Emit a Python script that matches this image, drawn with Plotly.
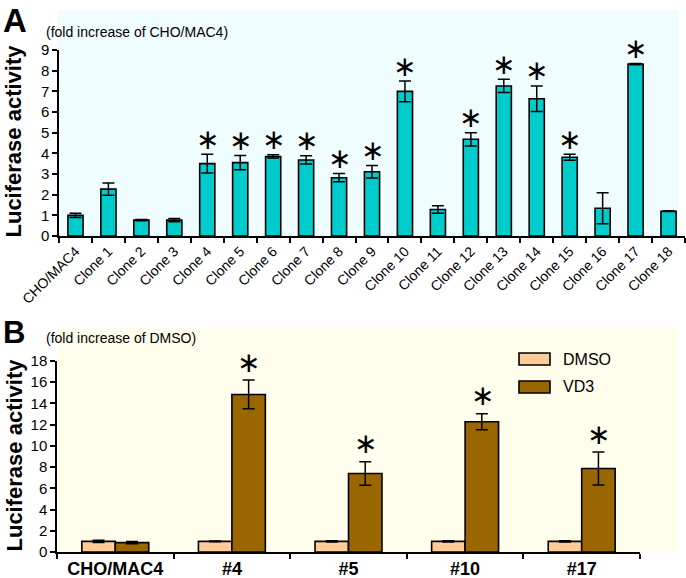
import plotly.graph_objects as go

# ---------------- data ----------------
categories_a = ["CHO/MAC4", "Clone 1", "Clone 2", "Clone 3", "Clone 4", "Clone 5",
                "Clone 6", "Clone 7", "Clone 8", "Clone 9", "Clone 10", "Clone 11",
                "Clone 12", "Clone 13", "Clone 14", "Clone 15", "Clone 16",
                "Clone 17", "Clone 18"]
values_a = [1.0, 2.27, 0.77, 0.77, 3.5, 3.55, 3.85, 3.68, 2.82, 3.11, 7.0, 1.28,
            4.68, 7.26, 6.64, 3.81, 1.34, 8.32, 1.2]
errors_a = [0.1, 0.3, 0.03, 0.08, 0.45, 0.35, 0.08, 0.2, 0.2, 0.3, 0.5, 0.18,
            0.32, 0.32, 0.62, 0.15, 0.75, 0.03, 0.02]
signif_a = [False, False, False, False, True, True, True, True, True, True, True,
            False, True, True, True, True, False, True, False]
yticks_a = [0, 1, 2, 3, 4, 5, 6, 7, 8, 9]

categories_b = ["CHO/MAC4", "#4", "#5", "#10", "#17"]
dmso_values = [1.0, 1.0, 1.0, 1.0, 1.0]
dmso_errors = [0.1, 0.04, 0.05, 0.05, 0.05]
vd3_values = [0.88, 14.85, 7.4, 12.28, 7.87]
vd3_errors = [0.1, 1.35, 1.1, 0.75, 1.55]
signif_b = [False, True, True, True, True]
yticks_b = [0, 2, 4, 6, 8, 10, 12, 14, 16, 18]
series_names = ["DMSO", "VD3"]

# ---------------- style ----------------
W, H = 686, 578
FONT = "Liberation Sans, Arial, Helvetica, sans-serif"
STAR_FONT = "DejaVu Sans, sans-serif"
STAR = "\u2217"
CYAN = "#00CCCC"
PEACH = "#FFCC99"
BROWN = "#996600"
BG_A = "#F0FDFF"
BG_B = "#FFFEEC"


def px(x):
    return x / W


def py(y):
    return (H - y) / H


fig = go.Figure()

fig.add_trace(go.Bar(
    x=categories_a, y=values_a, width=0.46,
    marker=dict(color=CYAN, line=dict(color="black", width=1.6)),
    error_y=dict(type="data", array=errors_a, color="black", thickness=1.5, width=6),
    xaxis="x", yaxis="y", showlegend=False))

fig.add_trace(go.Bar(
    x=categories_b, y=dmso_values, name=series_names[0],
    marker=dict(color=PEACH, line=dict(color="black", width=1.6)),
    error_y=dict(type="data", array=dmso_errors, color="black", thickness=1.5, width=6),
    xaxis="x2", yaxis="y2", showlegend=False))
fig.add_trace(go.Bar(
    x=categories_b, y=vd3_values, name=series_names[1],
    marker=dict(color=BROWN, line=dict(color="black", width=1.6)),
    error_y=dict(type="data", array=vd3_errors, color="black", thickness=1.5, width=6),
    xaxis="x2", yaxis="y2", showlegend=False))

annotations = []
# significance asterisks
for c, v, e, s in zip(categories_a, values_a, errors_a, signif_a):
    if s:
        annotations.append(dict(x=c, y=v + e, xref="x", yref="y", text=STAR,
                                showarrow=False, yanchor="middle", yshift=15,
                                font=dict(family=STAR_FONT, size=28, color="black")))
for c, v, e, s in zip(categories_b, vd3_values, vd3_errors, signif_b):
    if s:
        annotations.append(dict(x=c, y=v + e, xref="x2", yref="y2", text=STAR,
                                showarrow=False, yanchor="middle", yshift=18,
                                xshift=17,
                                font=dict(family=STAR_FONT, size=28, color="black")))

# panel letters and labels
annotations += [
    dict(x=px(1), y=py(0), xref="paper", yref="paper", text="<b>A</b>",
         showarrow=False, xanchor="left", yanchor="top",
         font=dict(family=FONT, size=33, color="black")),
    dict(x=px(1), y=py(313), xref="paper", yref="paper", text="<b>B</b>",
         showarrow=False, xanchor="left", yanchor="top",
         font=dict(family=FONT, size=31, color="black")),
    dict(x=px(44), y=py(32), xref="paper", yref="paper",
         text="(fold increase of CHO/MAC4)", showarrow=False,
         xanchor="left", yanchor="middle",
         font=dict(family=FONT, size=14, color="black")),
    dict(x=px(44), y=py(338), xref="paper", yref="paper",
         text="(fold increase of DMSO)", showarrow=False,
         xanchor="left", yanchor="middle",
         font=dict(family=FONT, size=14, color="black")),
    dict(x=px(13.5), y=py(141), xref="paper", yref="paper",
         text="<b>Luciferase activity</b>", showarrow=False, textangle=-90,
         xanchor="center", yanchor="middle",
         font=dict(family=FONT, size=22, color="black")),
    dict(x=px(13.5), y=py(455), xref="paper", yref="paper",
         text="<b>Luciferase activity</b>", showarrow=False, textangle=-90,
         xanchor="center", yanchor="middle",
         font=dict(family=FONT, size=22, color="black")),
]

# legend (drawn manually to match the boxed swatches)
legend_rows = [(353, 365, PEACH), (381, 393, BROWN)]
shapes = [
    dict(type="rect", xref="paper", yref="paper", x0=px(58), x1=px(678),
         y0=py(236), y1=py(10), fillcolor=BG_A, line=dict(width=0), layer="below"),
    dict(type="rect", xref="paper", yref="paper", x0=px(58), x1=px(678),
         y0=py(552), y1=py(327), fillcolor=BG_B, line=dict(width=0), layer="below"),
]
for (y0, y1, col), name in zip(legend_rows, series_names):
    shapes.append(dict(type="rect", xref="paper", yref="paper",
                       x0=px(519), x1=px(550), y0=py(y1), y1=py(y0),
                       fillcolor=col, line=dict(color="black", width=1.6)))
    annotations.append(dict(x=px(561), y=py((y0 + y1) / 2), xref="paper", yref="paper",
                            text=name, showarrow=False, xanchor="left", yanchor="middle",
                            font=dict(family=FONT, size=16, color="black")))

axis_common = dict(showline=True, linecolor="black", linewidth=1.5, ticks="outside",
                   tickcolor="black", tickwidth=1.5, ticklen=5, showgrid=False,
                   zeroline=False, automargin=False)

fig.update_layout(
    width=W, height=H,
    margin=dict(l=0, r=0, t=0, b=0, autoexpand=False),
    paper_bgcolor="white", plot_bgcolor="rgba(0,0,0,0)",
    barmode="group", bargap=0.426, bargroupgap=0,
    font=dict(family=FONT, color="black"),
    showlegend=False,
    xaxis=dict(domain=[px(59), px(685)], anchor="y", type="category",
               range=[-0.5, len(categories_a) - 0.5], tickson="boundaries",
               tickangle=-45, tickfont=dict(family=FONT, size=14, color="black"),
               **axis_common),
    yaxis=dict(domain=[py(236), py(50)], anchor="x", range=[0, 9],
               tickvals=yticks_a, tickfont=dict(family=FONT, size=15, color="black"),
               **axis_common),
    xaxis2=dict(domain=[px(57), px(640)], anchor="y2", type="category",
                range=[-0.5, len(categories_b) - 0.5], tickson="boundaries",
                tickangle=0,
                tickfont=dict(family=FONT, size=18, color="black", weight="bold"),
                **axis_common),
    yaxis2=dict(domain=[py(552), py(361)], anchor="x2", range=[0, 18],
                tickvals=yticks_b, tickfont=dict(family=FONT, size=15, color="black"),
                **axis_common),
    shapes=shapes,
    annotations=annotations,
)

fig.write_html(
    "out.html",
    config={"displayModeBar": False},
    post_script="document.body.style.margin='0';document.body.style.overflow='hidden';",
)
